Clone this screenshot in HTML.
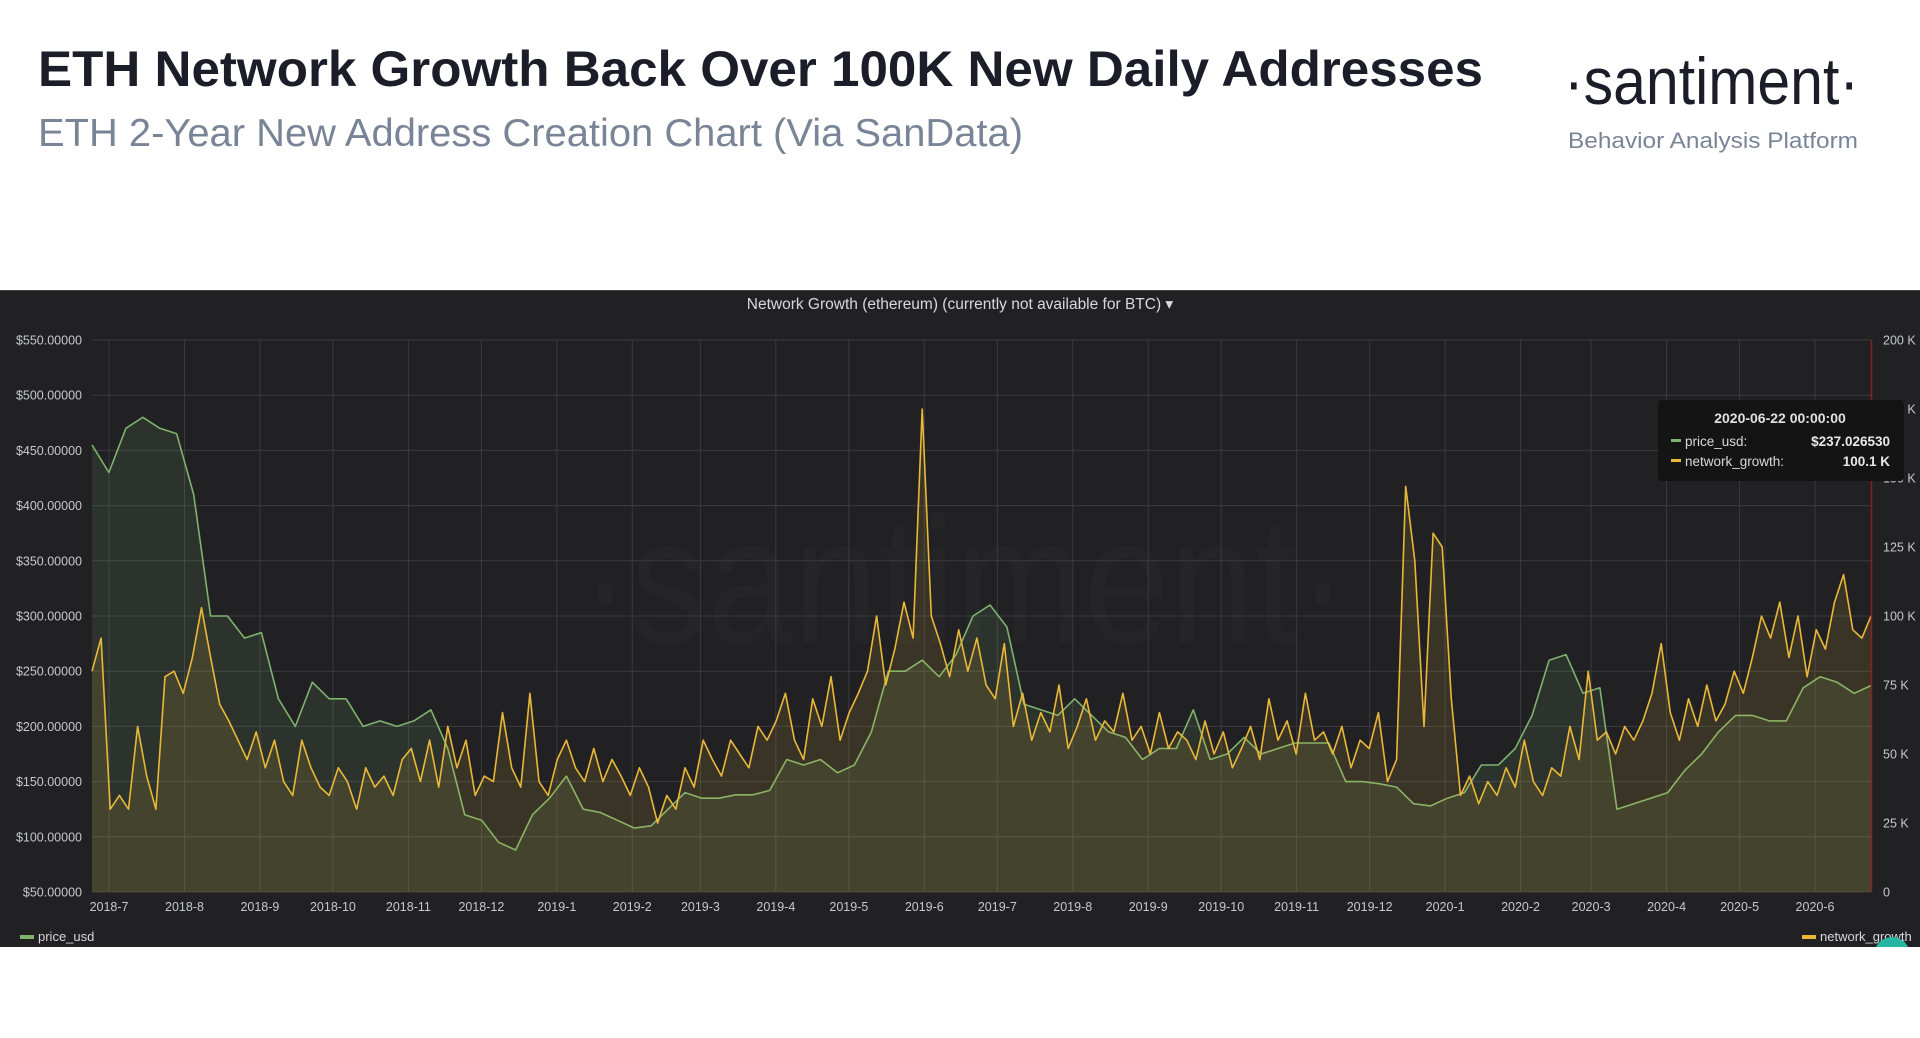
<!DOCTYPE html>
<html><head><meta charset="utf-8"><style>
html,body{margin:0;padding:0;background:#fff;width:1920px;height:1038px;overflow:hidden;font-family:"Liberation Sans",sans-serif}
</style></head><body>
<svg id="svg" width="1920" height="1038" viewBox="0 0 1920 1038" xmlns="http://www.w3.org/2000/svg">
<rect x="0" y="0" width="1920" height="1038" fill="#ffffff"/>
<text x="38" y="86" font-size="50" font-weight="bold" fill="#1b1d28" textLength="1445" lengthAdjust="spacingAndGlyphs">ETH Network Growth Back Over 100K New Daily Addresses</text>
<text x="38" y="146" font-size="39" fill="#7a8497" textLength="985" lengthAdjust="spacingAndGlyphs">ETH 2-Year New Address Creation Chart (Via SanData)</text>
<text x="1564" y="104" font-size="66" fill="#1b1d28" textLength="295" lengthAdjust="spacingAndGlyphs">·santiment·</text>
<text x="1568" y="148" font-size="22" fill="#7a8497" textLength="290" lengthAdjust="spacingAndGlyphs">Behavior Analysis Platform</text>
<rect x="0" y="290" width="1920" height="657" fill="#212124"/>
<line x1="0" y1="290.5" x2="1920" y2="290.5" stroke="#444" stroke-width="1"/>
<text x="960" y="309" font-size="15.5" fill="#d8d9da" text-anchor="middle">Network Growth (ethereum) (currently not available for BTC) ▾</text>
<text x="964" y="643" font-size="180" fill="#252528" text-anchor="middle" textLength="770" lengthAdjust="spacingAndGlyphs">·santiment·</text>
<g id="grid"></g>
<g id="series"></g>
<g id="axes"></g>
<line x1="1871.5" y1="340" x2="1871.5" y2="892" stroke="#8a2020" stroke-width="1.5"/>
<g>
<rect x="1658" y="400" width="246" height="81" rx="4" fill="#141414"/>
<text x="1780" y="423" font-size="14" font-weight="bold" fill="#e0e0e0" text-anchor="middle">2020-06-22 00:00:00</text>
<rect x="1671" y="439" width="10" height="3" fill="#7eb26d"/>
<text x="1685" y="446" font-size="13.5" fill="#d8d9da">price_usd:</text>
<text x="1890" y="446" font-size="13.5" font-weight="bold" fill="#e8e8e8" text-anchor="end">$237.026530</text>
<rect x="1671" y="459" width="10" height="3" fill="#eab839"/>
<text x="1685" y="466" font-size="13.5" fill="#d8d9da">network_growth:</text>
<text x="1890" y="466" font-size="13.5" font-weight="bold" fill="#e8e8e8" text-anchor="end">100.1 K</text>
</g>
<g><rect x="20" y="935" width="14" height="4" fill="#7eb26d"/><text x="38" y="941" font-size="13" fill="#d8d9da">price_usd</text></g>
<g><rect x="1802" y="935" width="14" height="4" fill="#eab839"/><text x="1820" y="941" font-size="13" fill="#d8d9da">network_growth</text></g>
<circle cx="1892" cy="955" r="18" fill="#26b5a0"/>
<rect x="0" y="947" width="1920" height="91" fill="#fff"/>
</svg>
<script>
const priceTicks=[50,100,150,200,250,300,350,400,450,500,550];
const growthTicks=[0,25,50,75,100,125,150,175,200];
const monthLabels=["2018-7","2018-8","2018-9","2018-10","2018-11","2018-12","2019-1","2019-2","2019-3","2019-4","2019-5","2019-6","2019-7","2019-8","2019-9","2019-10","2019-11","2019-12","2020-1","2020-2","2020-3","2020-4","2020-5","2020-6"];
const priceUsd=[455,430,470,480,470,465,410,300,300,280,285,225,200,240,225,225,200,205,200,205,215,180,120,115,95,88,120,135,155,125,122,115,108,110,125,140,135,135,138,138,142,170,165,170,158,165,195,250,250,260,245,265,300,310,290,220,215,210,225,210,195,190,170,180,180,215,170,175,190,175,180,185,185,185,150,150,148,145,130,128,135,140,165,165,180,210,260,265,230,235,125,130,135,140,160,175,195,210,210,205,205,235,245,240,230,237];
const networkGrowth=[80,92,30,35,30,60,42,30,78,80,72,85,103,85,68,62,55,48,58,45,55,40,35,55,45,38,35,45,40,30,45,38,42,35,48,52,40,55,38,60,45,55,35,42,40,65,45,38,72,40,35,48,55,45,40,52,40,48,42,35,45,38,25,35,30,45,38,55,48,42,55,50,45,60,55,62,72,55,48,70,60,78,55,65,72,80,100,75,88,105,92,175,100,90,78,95,80,92,75,70,90,60,72,55,65,58,75,52,60,70,55,62,58,72,55,60,50,65,52,58,55,48,62,50,58,45,52,60,48,70,55,62,50,72,55,58,50,60,45,55,52,65,40,48,147,120,60,130,125,70,35,42,32,40,35,45,38,55,40,35,45,42,60,48,80,55,58,50,60,55,62,72,90,65,55,70,60,75,62,68,80,72,85,100,92,105,85,100,78,95,88,105,115,95,92,100];
const NS="http://www.w3.org/2000/svg";
const X0=92,X1=1871,Y0=892,Y1=340,SPAN=731;
const startMs=Date.UTC(2018,5,24);
function xDay(d){return X0+(X1-X0)*d/SPAN;}
function yPrice(v){return Y0-(v-50)/500*(Y0-Y1);}
function yGrowth(v){return Y0-v/200*(Y0-Y1);}
function mk(tag,attrs,parent){const e=document.createElementNS(NS,tag);for(const k in attrs)e.setAttribute(k,attrs[k]);parent.appendChild(e);return e;}
const grid=document.getElementById('grid'),axes=document.getElementById('axes'),series=document.getElementById('series');
priceTicks.forEach(v=>{
  const y=yPrice(v);
  const l=mk('line',{x1:X0,x2:X1,y1:y,y2:y,stroke:'#3b3b3e','stroke-width':1},grid);
  
  
  const t=mk('text',{x:82,y:y+4.5,'font-size':12.5,fill:'#c7c8ca','text-anchor':'end'},axes);
  t.textContent='$'+v.toFixed(5);
  
  
});
growthTicks.forEach(v=>{
  const y=yGrowth(v);
  const t=mk('text',{x:1883,y:y+4.5,'font-size':12.5,fill:'#c7c8ca'},axes);
  t.textContent=v===0?'0':v+' K';
  
  
});
monthLabels.forEach(m=>{
  const [yr,mo]=m.split('-').map(Number);
  const d=(Date.UTC(yr,mo-1,1)-startMs)/86400000;
  const x=xDay(d);
  const l=mk('line',{x1:x,x2:x,y1:Y1,y2:Y0,stroke:'#3b3b3e','stroke-width':1},grid);
  
  
  const t=mk('text',{x:x,y:911,'font-size':12.5,fill:'#c7c8ca','text-anchor':'middle'},axes);
  t.textContent=m;
  
  
});
function drawSeries(arr,yf,color,fill,name){
  const n=arr.length;
  const pts=arr.map((v,i)=>[xDay(i*SPAN/(n-1)),yf(v)]);
  const line=pts.map((p,i)=>(i?'L':'M')+p[0].toFixed(1)+','+p[1].toFixed(1)).join('');
  const area=line+'L'+pts[n-1][0].toFixed(1)+','+Y0+'L'+pts[0][0].toFixed(1)+','+Y0+'Z';
  const a=mk('path',{d:area,fill:fill,stroke:'none'},series);
  
  
  const p=mk('path',{d:line,fill:'none',stroke:color,'stroke-width':1.6,'stroke-linejoin':'round'},series);
  
  
}
drawSeries(priceUsd,yPrice,'#7eb26d','rgba(126,178,109,0.13)','price-usd');
drawSeries(networkGrowth,yGrowth,'#eab839','rgba(234,184,57,0.13)','network-growth');
</script>
</body></html>
